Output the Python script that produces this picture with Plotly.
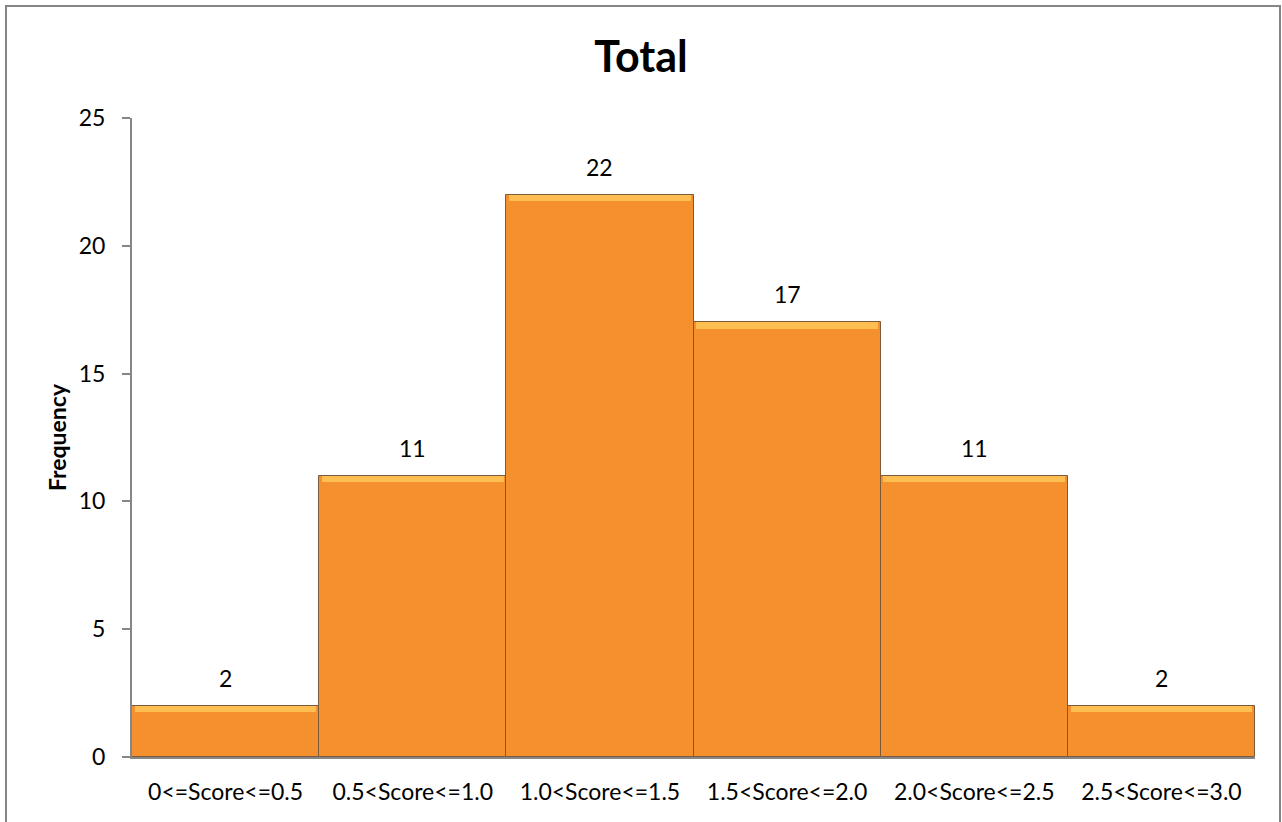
import plotly.graph_objects as go

# Frequency distribution of total scores
categories = ["0<=Score<=0.5", "0.5<Score<=1.0", "1.0<Score<=1.5",
              "1.5<Score<=2.0", "2.0<Score<=2.5", "2.5<Score<=3.0"]
frequency = [2, 11, 22, 17, 11, 2]
y_ticks = [0, 5, 10, 15, 20, 25]

FONT = "Lato, Open Sans, sans-serif"
GRAY = "#868686"
BEVEL = 0.25  # thickness of the highlighted top edge, in frequency units

fig = go.Figure()

# main bars
fig.add_trace(go.Bar(
    x=categories, y=frequency,
    marker=dict(color="#F4902E", line=dict(color="#7A5A3A", width=1)),
    hoverinfo="x+y", showlegend=False,
))
# lighter top edge of each bar
fig.add_trace(go.Bar(
    x=categories, y=[BEVEL] * len(frequency), base=[v - BEVEL for v in frequency],
    width=0.97,
    marker=dict(color="#FFBE52", line=dict(width=0)),
    hoverinfo="skip", showlegend=False,
))

# value labels above bars
for c, v in zip(categories, frequency):
    fig.add_annotation(x=c, y=v, text=str(v), showarrow=False,
                       yanchor="bottom", yshift=12,
                       font=dict(family=FONT, size=23, color="black"))

# outer chart border (plot area spans x 132..1255, y 118..757 in pixels)
pw, ph = 1255 - 132, 757 - 118
fig.add_shape(type="rect", xref="paper", yref="paper",
              x0=(6 - 132) / pw, x1=(1280 - 132) / pw,
              y0=-0.3, y1=(757 - 6) / ph,
              line=dict(color=GRAY, width=2), fillcolor="rgba(0,0,0,0)",
              layer="below")

fig.update_layout(
    width=1282, height=822,
    margin=dict(l=132, r=27, t=118, b=65),
    paper_bgcolor="white", plot_bgcolor="white",
    barmode="overlay", bargap=0,
    title=dict(text="<b>Total</b>", x=0.5, xref="container", xanchor="center",
               y=1 - 57 / 822, yref="container", yanchor="middle",
               font=dict(family=FONT, size=43, color="black")),
    font=dict(family=FONT, color="black"),
    xaxis=dict(
        showline=True, linecolor=GRAY, linewidth=2,
        ticks="", showgrid=False,
        tickfont=dict(family=FONT, size=23, color="black"),
        ticklabelstandoff=13,
    ),
    yaxis=dict(
        range=[0, 25], tickvals=y_ticks,
        showline=True, linecolor=GRAY, linewidth=2,
        ticks="outside", ticklen=8, tickcolor=GRAY, tickwidth=2,
        showgrid=False, zeroline=False,
        tickfont=dict(family=FONT, size=23, color="black"),
        ticklabelstandoff=12,
        title=dict(text="<b>Frequency</b>", standoff=6,
                   font=dict(family=FONT, size=23, color="black")),
    ),
)

fig.write_html("out.html")
